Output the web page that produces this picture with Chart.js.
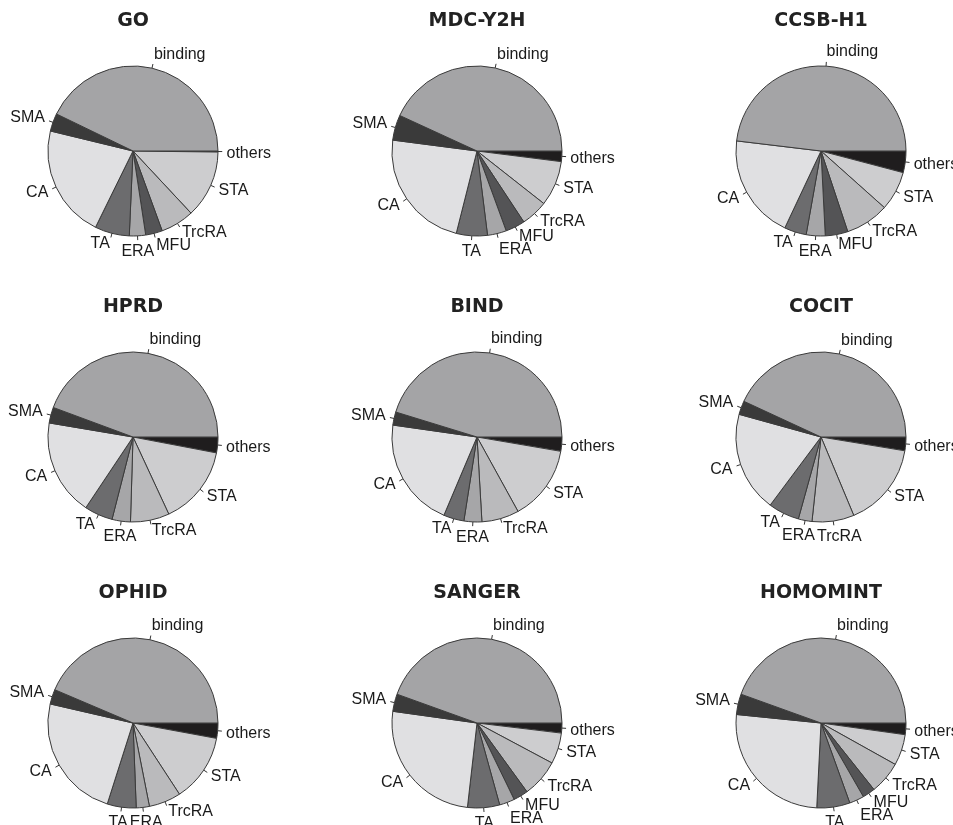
<!DOCTYPE html>
<html>
<head>
<meta charset="utf-8">
<script src="https://cdn.jsdelivr.net/npm/chart.js@4.4.1/dist/chart.umd.min.js"></script>
<style>
  html, body { margin:0; padding:0; background:#fff; overflow:hidden; }
  body { width:953px; height:825px; position:relative; }
  canvas { position:absolute; }
</style>
</head>
<body>
<script>
// ========== Data (percent of each function class) ==========
const categories = ['binding','SMA','CA','TA','ERA','MFU','TrcRA','STA','others'];
const sources = ['GO','MDC-Y2H','CCSB-H1','HPRD','BIND','COCIT','OPHID','SANGER','HOMOMINT'];

const goVals       = [43.0, 3.4, 21.6, 6.6, 3.1, 3.2, 6.4, 12.9, 0.2];
const mdcVals      = [43.1, 4.8, 23.1, 5.9, 3.6, 3.7, 5.1, 8.6, 2.0];
const ccsbVals     = [48.1, 0,   19.9, 4.2, 3.6, 4.3, 8.3, 7.5, 4.1];
const hprdVals     = [44.4, 3.0, 18.3, 5.4, 3.5, 0,   7.4, 15.1, 3.0];
const bindVals     = [45.3, 2.5, 20.9, 3.9, 3.4, 0,   7.1, 14.3, 2.7];
const cocitVals    = [43.1, 2.6, 19.1, 5.9, 2.6, 0,   8.0, 16.1, 2.6];
const ophidVals    = [43.6, 2.8, 23.7, 5.5, 2.5, 0,   6.1, 12.9, 2.9];
const sangerVals   = [44.5, 3.3, 25.4, 6.1, 2.9, 2.8, 7.2, 5.9, 1.9];
const homomintVals = [44.5, 3.9, 25.8, 6.3, 2.8, 2.4, 6.2, 5.9, 2.2];

const allVals = [goVals, mdcVals, ccsbVals, hprdVals, bindVals, cocitVals, ophidVals, sangerVals, homomintVals];

// ========== Styles ==========
const sliceColors = ['#a4a4a6','#3a3a3a','#e0e0e2','#6c6c6e','#a6a6a8','#545456','#bababc','#cdcdcf','#1f1d1e'];
const colX = [133, 477, 821];
const rowY = [151, 437, 723];
const CW = 340, CH = 300;
const R = 85;

Chart.defaults.font.family = '"Liberation Sans", Arial, sans-serif';

// R-style pie: labels at 1.1r with a small tick from r to 1.05r
const pieLabels = {
  id:'pieLabels',
  afterDatasetsDraw(chart, args, opts) {
    const ctx = chart.ctx;
    const meta = chart.getDatasetMeta(0);
    const labels = chart.data.labels;
    const vals = chart.data.datasets[0].data;
    ctx.save();
    ctx.strokeStyle = '#333';
    ctx.lineWidth = 1;
    ctx.fillStyle = '#1a1a1a';
    ctx.font = '16px "Liberation Sans", Arial, sans-serif';

    const boxes = [];
    meta.data.forEach((arc, i) => {
      if (!vals[i]) return;
      const a = (arc.startAngle + arc.endAngle) / 2;
      const r = arc.outerRadius;
      const c = Math.cos(a), s = Math.sin(a);
      ctx.beginPath();
      ctx.moveTo(arc.x + r * c, arc.y + r * s);
      ctx.lineTo(arc.x + 1.05 * r * c, arc.y + 1.05 * r * s);
      ctx.stroke();

      const w = ctx.measureText(labels[i]).width;
      let lx = arc.x + 1.1 * r * c;
      let ly = arc.y + 1.1 * r * s;
      let align, base;
      if (s > 0 && (c < 0 ? c > -0.2 : c < 0.17)) {
        // labels straight below the pie hang under their tick
        align = 'center'; base = 'top'; ly -= 1;
      } else {
        align = c < 0 ? 'right' : 'left'; base = 'middle';
        ly += s < 0 ? 1.1 * r * s * 0.06 : 2;
      }
      const x0 = align === 'center' ? lx - w / 2 : (align === 'right' ? lx - w : lx);
      const y0 = base === 'top' ? ly : ly - 6;
      boxes.push({ text:labels[i], align, base, lx, ly, x0, x1:x0 + w, y0, y1:y0 + 12 });
    });

    // nudge overlapping labels apart
    for (let pass = 0; pass < 3; pass++) {
      for (let p = 0; p < boxes.length; p++) {
        for (let q = p + 1; q < boxes.length; q++) {
          const A = boxes[p], B = boxes[q];
          const ox = Math.min(A.x1, B.x1) - Math.max(A.x0, B.x0) + 2;
          const oy = Math.min(A.y1, B.y1) - Math.max(A.y0, B.y0) + 1;
          if (ox <= 0 || oy <= 0) continue;
          if (Math.abs(A.y0 - B.y0) < 4) {
            const L = A.x0 < B.x0 ? A : B, Rt = L === A ? B : A;
            [[L, -ox / 2], [Rt, ox / 2]].forEach(([b, d]) => { b.lx += d; b.x0 += d; b.x1 += d; });
          } else {
            const low = A.y0 > B.y0 ? A : B;
            low.ly += oy; low.y0 += oy; low.y1 += oy;
          }
        }
      }
    }
    boxes.forEach(b => {
      ctx.textAlign = b.align;
      ctx.textBaseline = b.base;
      ctx.fillText(b.text, b.lx, b.ly);
    });

    // panel title
    const a0 = meta.data[0];
    ctx.font = 'bold 19px "DejaVu Sans", Arial, sans-serif';
    ctx.textAlign = 'center';
    ctx.textBaseline = 'middle';
    ctx.fillStyle = '#222';
    ctx.fillText(opts.title, a0.x, a0.y - 130);
    ctx.restore();
  }
};

// ========== Build the nine pies ==========
const charts = sources.map((name, k) => {
  const cv = document.createElement('canvas');
  cv.width = CW; cv.height = CH;
  cv.style.width = CW + 'px'; cv.style.height = CH + 'px';
  cv.style.left = (colX[k % 3] - CW / 2) + 'px';
  cv.style.top = (rowY[Math.floor(k / 3)] - CH / 2) + 'px';
  document.body.appendChild(cv);

  // R draws counter-clockwise from 3 o'clock; Chart.js goes clockwise, so reverse
  const labs = categories.slice().reverse();
  const data = allVals[k].slice().reverse();
  const cols = sliceColors.slice().reverse();

  return new Chart(cv.getContext('2d'), {
    type:'pie',
    data:{ labels:labs, datasets:[{ data:data, backgroundColor:cols, borderColor:'#3a3a3a', borderWidth:1, radius:R }] },
    options:{
      responsive:false, animation:false, devicePixelRatio:1, rotation:90,
      layout:{ padding:0 },
      plugins:{ legend:{ display:false }, tooltip:{ enabled:false }, pieLabels:{ title:name } }
    },
    plugins:[pieLabels]
  });
});
</script>
</body>
</html>
